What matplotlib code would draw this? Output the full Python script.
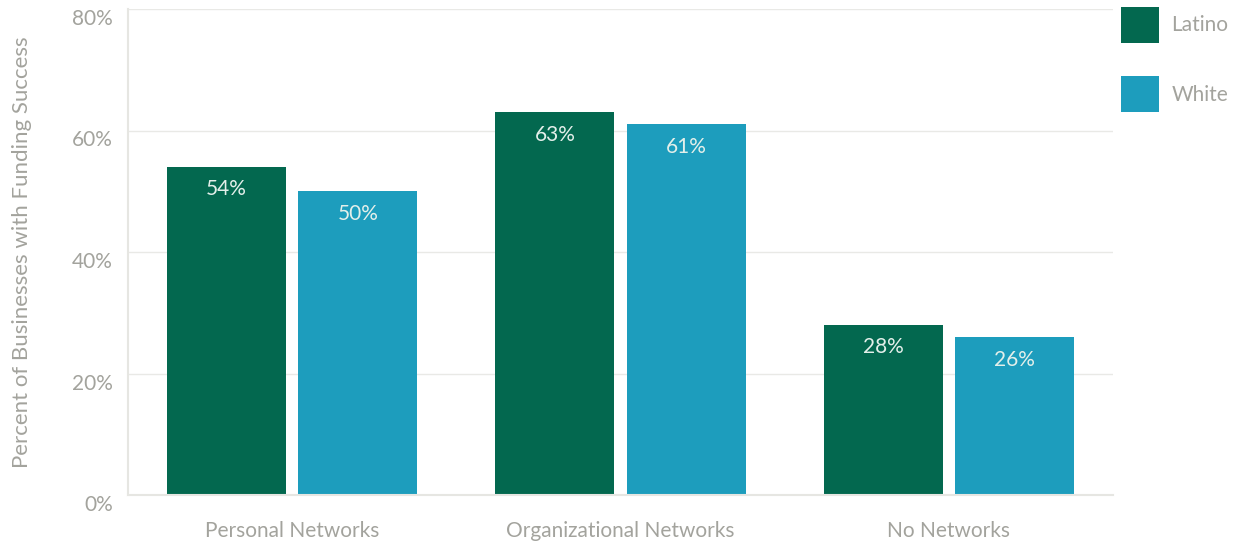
import numpy as np
import matplotlib.pyplot as plt

plt.rcParams['font.family'] = ['Lato', 'DejaVu Sans']

# data
categories = ['Personal Networks', 'Organizational Networks', 'No Networks']
latino = [54, 63, 28]
white = [50, 61, 26]
series_names = ['Latino', 'White']

green = '#03684F'
blue = '#1D9DBD'
grey = '#a3a39d'
grid_col = '#e9e9e6'
fs = 15

fig = plt.figure(figsize=[12.43, 5.46], dpi=100)
ax = fig.add_axes([128/1243, 1 - 495/546, 985/1243, 486/546])

x = np.arange(len(categories))
w = 0.362
off = 0.2
b1 = ax.bar(x - off, latino, w, color=green, label=series_names[0], zorder=2)
b2 = ax.bar(x + off, white, w, color=blue, label=series_names[1], zorder=2)

# value labels inside bars
for bars in (b1, b2):
    for rect in bars:
        h = rect.get_height()
        ax.annotate('%d%%' % h, xy=(rect.get_x() + rect.get_width()/2, h),
                    xytext=(0, -9), textcoords='offset points',
                    ha='center', va='top', fontsize=fs, color='#e3efea', zorder=3)

ax.set_xlim(-0.5, 2.5)
ax.set_ylim(0, 80)
ax.set_yticks([0, 20, 40, 60, 80])
ax.set_yticklabels(['%d%%' % v for v in [0, 20, 40, 60, 80]])
for lbl in ax.get_yticklabels():
    lbl.set_va('top')
ax.set_xticks(x)
ax.set_xticklabels(categories)

ax.tick_params(axis='both', length=0, labelsize=fs, labelcolor=grey)
ax.tick_params(axis='y', pad=11)
ax.tick_params(axis='x', pad=19)
ax.yaxis.grid(True, color=grid_col, linewidth=1, zorder=0)
ax.set_axisbelow(True)

for s in ['top', 'right']:
    ax.spines[s].set_visible(False)
for s in ['left', 'bottom']:
    ax.spines[s].set_color('#e6e6e2')
    ax.spines[s].set_linewidth(1.5)

ax.set_ylabel('Percent of Businesses with Funding Success', fontsize=16, color=grey)
ax.yaxis.set_label_coords(-0.097, 0.5)

leg = ax.legend(frameon=False, loc='upper left', bbox_to_anchor=(1.0, 1.022),
                fontsize=fs, handlelength=1.8, handleheight=2.3,
                labelspacing=1.6, handletextpad=0.6, borderaxespad=0.0)
for t in leg.get_texts():
    t.set_color(grey)

fig.savefig('out.png', dpi=100)
